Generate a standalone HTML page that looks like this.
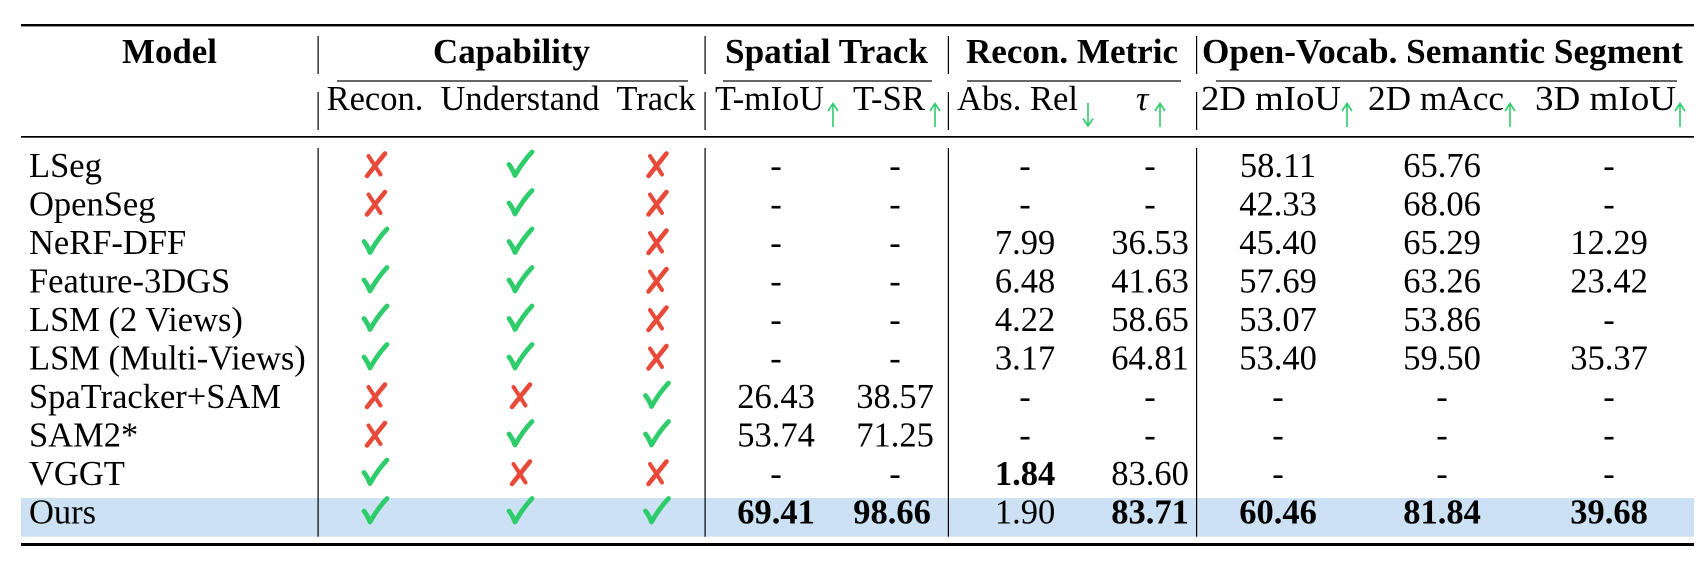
<!DOCTYPE html>
<html>
<head>
<meta charset="utf-8">
<style>
  html,body{margin:0;padding:0;background:#fff;}
  svg{display:block;}
  text{font-family:"Liberation Serif","Times New Roman",serif;fill:#000;}
  .h{font-size:35px;font-weight:bold;}
  .n{font-size:34.5px;}
  .b{font-size:34.5px;font-weight:bold;}
  .m{text-anchor:middle;}
</style>
</head>
<body>
<svg width="1706" height="564" viewBox="0 0 1706 564" xmlns="http://www.w3.org/2000/svg">
  <defs>
    <g id="ck"><path d="M-11.5,-12.5 Q-8,-8 -5.5,-1.5 Q2,-15 11.5,-25" fill="none" stroke="#2fcc6b" stroke-width="4.8" stroke-linecap="round" stroke-linejoin="round"/></g>
    <g id="cx"><path d="M9.5,-23.5 Q1,-13 -8.5,-1" fill="none" stroke="#e84a3a" stroke-width="4.6" stroke-linecap="round"/><path d="M-7,-21 Q-1,-12 5,-2.5" fill="none" stroke="#e84a3a" stroke-width="4" stroke-linecap="round"/></g>
    <g id="up"><path d="M0,127 L0,104 M-5,111 L0,103.5 L5,111" fill="none" stroke="#2fcc6b" stroke-width="1.6"/></g>
    <g id="dn"><path d="M0,103 L0,126 M-5,118.5 L0,126 L5,118.5" fill="none" stroke="#2fcc6b" stroke-width="1.6"/></g>
  </defs>

  <!-- highlight row -->
  <rect x="21" y="498" width="1673" height="38.7" fill="#cce2f4"/>

  <!-- rules -->
  <rect x="21" y="24" width="1673" height="2.4" fill="#000"/>
  <rect x="337" y="80.4" width="351" height="1.2" fill="#000"/>
  <rect x="723" y="80.4" width="209" height="1.2" fill="#000"/>
  <rect x="967" y="80.4" width="214" height="1.2" fill="#000"/>
  <rect x="1216" y="80.4" width="461" height="1.2" fill="#000"/>
  <rect x="21" y="136" width="1673" height="1.7" fill="#000"/>
  <rect x="21" y="543" width="1673" height="3" fill="#000"/>

  <!-- vertical lines -->
  <g fill="#000">
    <rect x="317.5" y="36" width="1.2" height="38"/>
    <rect x="704.5" y="36" width="1.2" height="38"/>
    <rect x="947.8" y="36" width="1.2" height="38"/>
    <rect x="1196" y="36" width="1.2" height="38"/>
    <rect x="317.5" y="92" width="1.2" height="38"/>
    <rect x="704.5" y="92" width="1.2" height="38"/>
    <rect x="947.8" y="92" width="1.2" height="38"/>
    <rect x="1196" y="92" width="1.2" height="38"/>
    <rect x="317.5" y="148" width="1.2" height="388.7"/>
    <rect x="704.5" y="148" width="1.2" height="388.7"/>
    <rect x="947.8" y="148" width="1.2" height="388.7"/>
    <rect x="1196" y="148" width="1.2" height="388.7"/>
  </g>

  <!-- header row 1 -->
  <text class="h" x="122" y="63" textLength="95" lengthAdjust="spacingAndGlyphs">Model</text>
  <text class="h" x="433" y="63" textLength="157" lengthAdjust="spacingAndGlyphs">Capability</text>
  <text class="h" x="725" y="63" textLength="203" lengthAdjust="spacingAndGlyphs">Spatial Track</text>
  <text class="h" x="966" y="63" textLength="212" lengthAdjust="spacingAndGlyphs">Recon. Metric</text>
  <text class="h" x="1202" y="63" textLength="481" lengthAdjust="spacingAndGlyphs">Open-Vocab. Semantic Segment</text>

  <!-- header row 2 -->
  <text class="n m" x="375" y="110">Recon.</text>
  <text class="n m" x="520" y="110">Understand</text>
  <text class="n m" x="656" y="110">Track</text>
  <text class="n" x="715" y="110" textLength="109" lengthAdjust="spacingAndGlyphs">T-mIoU</text><use href="#up" x="833" y="0"/>
  <text class="n" x="853" y="110" textLength="72" lengthAdjust="spacingAndGlyphs">T-SR</text><use href="#up" x="935" y="0"/>
  <text class="n" x="957" y="110" textLength="121" lengthAdjust="spacingAndGlyphs">Abs. Rel</text><use href="#dn" x="1088" y="0"/>
  <text class="n" x="1136" y="110" font-style="italic">τ</text><use href="#up" x="1160" y="0"/>
  <text class="n" x="1201" y="110" textLength="140" lengthAdjust="spacingAndGlyphs">2D mIoU</text><use href="#up" x="1347" y="0"/>
  <text class="n" x="1368" y="110" textLength="136" lengthAdjust="spacingAndGlyphs">2D mAcc</text><use href="#up" x="1510" y="0"/>
  <text class="n" x="1535" y="110" textLength="141" lengthAdjust="spacingAndGlyphs">3D mIoU</text><use href="#up" x="1680" y="0"/>

  <!-- Row 0: LSeg y=177 -->
  <text class="n" x="29" y="177">LSeg</text>
  <use href="#cx" x="375.5" y="177"/><use href="#ck" x="520.5" y="177"/><use href="#cx" x="657" y="177"/>
  <text class="n m" x="776" y="177">-</text><text class="n m" x="895" y="177">-</text>
  <text class="n m" x="1025" y="177">-</text><text class="n m" x="1150" y="177">-</text>
  <text class="n m" x="1278" y="177">58.11</text><text class="n m" x="1442" y="177">65.76</text><text class="n m" x="1609" y="177">-</text>

  <!-- Row 1: OpenSeg y=215.5 -->
  <text class="n" x="29" y="215.5">OpenSeg</text>
  <use href="#cx" x="375.5" y="215.5"/><use href="#ck" x="520.5" y="215.5"/><use href="#cx" x="657" y="215.5"/>
  <text class="n m" x="776" y="215.5">-</text><text class="n m" x="895" y="215.5">-</text>
  <text class="n m" x="1025" y="215.5">-</text><text class="n m" x="1150" y="215.5">-</text>
  <text class="n m" x="1278" y="215.5">42.33</text><text class="n m" x="1442" y="215.5">68.06</text><text class="n m" x="1609" y="215.5">-</text>

  <!-- Row 2: NeRF-DFF y=254 -->
  <text class="n" x="29" y="254">NeRF-DFF</text>
  <use href="#ck" x="375.5" y="254"/><use href="#ck" x="520.5" y="254"/><use href="#cx" x="657" y="254"/>
  <text class="n m" x="776" y="254">-</text><text class="n m" x="895" y="254">-</text>
  <text class="n m" x="1025" y="254">7.99</text><text class="n m" x="1150" y="254">36.53</text>
  <text class="n m" x="1278" y="254">45.40</text><text class="n m" x="1442" y="254">65.29</text><text class="n m" x="1609" y="254">12.29</text>

  <!-- Row 3: Feature-3DGS y=292.5 -->
  <text class="n" x="29" y="292.5">Feature-3DGS</text>
  <use href="#ck" x="375.5" y="292.5"/><use href="#ck" x="520.5" y="292.5"/><use href="#cx" x="657" y="292.5"/>
  <text class="n m" x="776" y="292.5">-</text><text class="n m" x="895" y="292.5">-</text>
  <text class="n m" x="1025" y="292.5">6.48</text><text class="n m" x="1150" y="292.5">41.63</text>
  <text class="n m" x="1278" y="292.5">57.69</text><text class="n m" x="1442" y="292.5">63.26</text><text class="n m" x="1609" y="292.5">23.42</text>

  <!-- Row 4: LSM (2 Views) y=331 -->
  <text class="n" x="29" y="331">LSM (2 Views)</text>
  <use href="#ck" x="375.5" y="331"/><use href="#ck" x="520.5" y="331"/><use href="#cx" x="657" y="331"/>
  <text class="n m" x="776" y="331">-</text><text class="n m" x="895" y="331">-</text>
  <text class="n m" x="1025" y="331">4.22</text><text class="n m" x="1150" y="331">58.65</text>
  <text class="n m" x="1278" y="331">53.07</text><text class="n m" x="1442" y="331">53.86</text><text class="n m" x="1609" y="331">-</text>

  <!-- Row 5: LSM (Multi-Views) y=369.5 -->
  <text class="n" x="29" y="369.5">LSM (Multi-Views)</text>
  <use href="#ck" x="375.5" y="369.5"/><use href="#ck" x="520.5" y="369.5"/><use href="#cx" x="657" y="369.5"/>
  <text class="n m" x="776" y="369.5">-</text><text class="n m" x="895" y="369.5">-</text>
  <text class="n m" x="1025" y="369.5">3.17</text><text class="n m" x="1150" y="369.5">64.81</text>
  <text class="n m" x="1278" y="369.5">53.40</text><text class="n m" x="1442" y="369.5">59.50</text><text class="n m" x="1609" y="369.5">35.37</text>

  <!-- Row 6: SpaTracker+SAM y=408 -->
  <text class="n" x="29" y="408">SpaTracker+SAM</text>
  <use href="#cx" x="375.5" y="408"/><use href="#cx" x="520.5" y="408"/><use href="#ck" x="657" y="408"/>
  <text class="n m" x="776" y="408">26.43</text><text class="n m" x="895" y="408">38.57</text>
  <text class="n m" x="1025" y="408">-</text><text class="n m" x="1150" y="408">-</text>
  <text class="n m" x="1278" y="408">-</text><text class="n m" x="1442" y="408">-</text><text class="n m" x="1609" y="408">-</text>

  <!-- Row 7: SAM2* y=446.5 -->
  <text class="n" x="29" y="446.5">SAM2*</text>
  <use href="#cx" x="375.5" y="446.5"/><use href="#ck" x="520.5" y="446.5"/><use href="#ck" x="657" y="446.5"/>
  <text class="n m" x="776" y="446.5">53.74</text><text class="n m" x="895" y="446.5">71.25</text>
  <text class="n m" x="1025" y="446.5">-</text><text class="n m" x="1150" y="446.5">-</text>
  <text class="n m" x="1278" y="446.5">-</text><text class="n m" x="1442" y="446.5">-</text><text class="n m" x="1609" y="446.5">-</text>

  <!-- Row 8: VGGT y=485 -->
  <text class="n" x="29" y="485">VGGT</text>
  <use href="#ck" x="375.5" y="485"/><use href="#cx" x="520.5" y="485"/><use href="#cx" x="657" y="485"/>
  <text class="n m" x="776" y="485">-</text><text class="n m" x="895" y="485">-</text>
  <text class="b m" x="1025" y="485">1.84</text><text class="n m" x="1150" y="485">83.60</text>
  <text class="n m" x="1278" y="485">-</text><text class="n m" x="1442" y="485">-</text><text class="n m" x="1609" y="485">-</text>

  <!-- Row 9: Ours y=523.5 -->
  <text class="n" x="29" y="523.5">Ours</text>
  <use href="#ck" x="375.5" y="523.5"/><use href="#ck" x="520.5" y="523.5"/><use href="#ck" x="657" y="523.5"/>
  <text class="b m" x="776" y="523.5">69.41</text><text class="b m" x="892" y="523.5">98.66</text>
  <text class="n m" x="1025" y="523.5">1.90</text><text class="b m" x="1150" y="523.5">83.71</text>
  <text class="b m" x="1278" y="523.5">60.46</text><text class="b m" x="1442" y="523.5">81.84</text><text class="b m" x="1609" y="523.5">39.68</text>
</svg>
</body>
</html>
